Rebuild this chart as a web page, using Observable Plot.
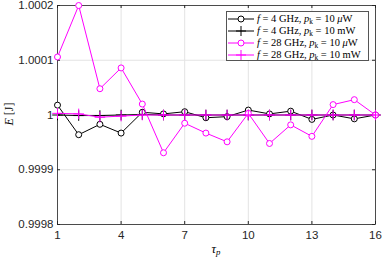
<!DOCTYPE html>
<html>
<head>
<meta charset="utf-8">
<script src="https://cdn.jsdelivr.net/npm/d3@7"></script>
<script src="https://cdn.jsdelivr.net/npm/@observablehq/plot@0.6"></script>
<style>
  html, body { margin: 0; padding: 0; background: white; }
  #wrap { position: relative; width: 382px; height: 260px; overflow: hidden; }
  .serif { font-family: "Liberation Serif", "DejaVu Serif", serif; color: #000; }
  #ylab { position: absolute; left: 9px; top: 114px; transform: translate(-50%, -50%) rotate(-90deg); font-size: 12px; white-space: nowrap; }
  #xlab { position: absolute; left: 216px; top: 249px; transform: translate(-50%, -50%); font-size: 12.5px; white-space: nowrap; }
  #legend { position: absolute; left: 226px; top: 11px; width: 143px; height: 50px; border: 1px solid #555; background: white; box-sizing: border-box; padding-top: 1px; }
  .row { display: flex; align-items: center; height: 12px; line-height: 12px; font-size: 10.5px; white-space: nowrap; }
  .row svg { flex: none; margin-left: 1px; margin-right: 3px; }
  sub { font-size: 70%; vertical-align: -0.25em; line-height: 0; }
</style>
</head>
<body>
<div id="wrap"></div>
<script>
const tau = [1, 2, 3, 4, 5, 6, 7, 8, 9, 10, 11, 12, 13, 14, 15, 16];
const e4uW  = [1.000018, 0.999964, 0.999983, 0.999967, 1.000005, 1.000002, 1.000006, 0.999995, 0.999997, 1.000009, 1.000002, 1.000007, 0.999992, 1.000000, 0.999993, 1.000000];
const e4mW  = [1.000000, 0.999999, 0.999999, 1.000000, 1.000001, 1.000000, 1.000000, 1.000000, 1.000000, 1.000000, 1.000000, 1.000000, 1.000000, 1.000000, 1.000000, 1.000000];
const e28uW = [1.000106, 1.000200, 1.000048, 1.000086, 1.000020, 0.999931, 0.999985, 0.999967, 0.999951, 1.000003, 0.999948, 0.999982, 0.999961, 1.000019, 1.000028, 1.000000];
const e28mW = [1.000003, 1.000002, 0.999996, 0.999998, 1.000000, 1.000000, 1.000000, 1.000000, 1.000000, 1.000000, 1.000000, 1.000000, 1.000000, 1.000000, 1.000000, 1.000000];
const xTicks = [1, 4, 7, 10, 13, 16];
const yTicks = [0.9998, 0.9999, 1, 1.0001, 1.0002];
const seriesNames = ["f = 4 GHz, pk = 10 µW", "f = 4 GHz, pk = 10 mW", "f = 28 GHz, pk = 10 µW", "f = 28 GHz, pk = 10 mW"];

const rows = (vals) => tau.map((t, i) => ({t, e: vals[i]}));
const d4u = rows(e4uW), d4m = rows(e4mW), d28u = rows(e28uW), d28m = rows(e28mW);
const MAG = "#ff00ff";

const chart = Plot.plot({
  width: 382, height: 260,
  marginLeft: 57, marginRight: 7, marginTop: 5, marginBottom: 36,
  style: {fontFamily: "'Liberation Sans', Arial, sans-serif", fontSize: "11.5px", color: "#262626", background: "white"},
  x: {domain: [1, 16]},
  y: {domain: [0.9998, 1.0002]},
  marks: [
    Plot.gridX(xTicks, {stroke: "#e3e3e3", strokeOpacity: 1}),
    Plot.gridY(yTicks, {stroke: "#e3e3e3", strokeOpacity: 1}),
    Plot.tickX(xTicks, {x: d => d, insetTop: 216, stroke: "#262626"}),
    Plot.tickX(xTicks, {x: d => d, insetBottom: 216, stroke: "#262626"}),
    Plot.tickY(yTicks, {y: d => d, insetRight: 315, stroke: "#262626"}),
    Plot.tickY(yTicks, {y: d => d, insetLeft: 315, stroke: "#262626"}),
    Plot.frame({stroke: "#262626", strokeWidth: 0.8}),
    Plot.axisX(xTicks, {tickSize: 0, tickPadding: 6, label: null, tickFormat: d => String(d)}),
    Plot.axisY(yTicks, {tickSize: 0, tickPadding: 4, label: null, tickFormat: d => String(+d.toFixed(4))}),
    Plot.line(d4u, {x: "t", y: "e", stroke: "#000", strokeWidth: 1}),
    Plot.dot(d4u, {x: "t", y: "e", r: 3, stroke: "#000", fill: "white", strokeWidth: 1}),
    Plot.line(d4m, {x: "t", y: "e", stroke: "#000", strokeWidth: 1}),
    Plot.dot(d4m, {x: "t", y: "e", r: 3.5, symbol: "plus", stroke: "#000", strokeWidth: 1}),
    Plot.line(d28u, {x: "t", y: "e", stroke: MAG, strokeWidth: 1}),
    Plot.dot(d28u, {x: "t", y: "e", r: 3, stroke: MAG, fill: "white", strokeWidth: 1}),
    Plot.line(d28m, {x: "t", y: "e", stroke: MAG, strokeWidth: 1}),
    Plot.dot(d28m, {x: "t", y: "e", r: 3.5, symbol: "plus", stroke: MAG, strokeWidth: 1})
  ]
});

const wrap = document.getElementById("wrap");
wrap.appendChild(chart);

const ylab = document.createElement("div");
ylab.id = "ylab"; ylab.className = "serif";
ylab.innerHTML = "<i>E</i> [J]";
wrap.appendChild(ylab);

const xlab = document.createElement("div");
xlab.id = "xlab"; xlab.className = "serif";
xlab.innerHTML = "<i>τ</i><sub><i>p</i></sub>";
wrap.appendChild(xlab);

const legend = document.createElement("div");
legend.id = "legend"; legend.className = "serif";
const specs = [
  {color: "#000", marker: "circle", f: "4", unit: "<i>μ</i>W"},
  {color: "#000", marker: "plus", f: "4", unit: "mW"},
  {color: MAG, marker: "circle", f: "28", unit: "<i>μ</i>W"},
  {color: MAG, marker: "plus", f: "28", unit: "mW"}
];
specs.forEach((s, i) => {
  const row = document.createElement("div");
  row.className = "row";
  row.title = seriesNames[i];
  const m = s.marker === "circle"
    ? `<circle cx="13" cy="6" r="3" fill="white" stroke="${s.color}" stroke-width="1"/>`
    : `<path d="M8,6H18M13,1V11" stroke="${s.color}" stroke-width="1"/>`;
  row.innerHTML = `<svg width="26" height="12"><line x1="0" x2="26" y1="6" y2="6" stroke="${s.color}" stroke-width="1"/>${m}</svg>` +
    `<span><i>f</i> = ${s.f} GHz, <i>p</i><sub>k</sub> = 10 ${s.unit}</span>`;
  legend.appendChild(row);
});
wrap.appendChild(legend);
</script>
</body>
</html>
